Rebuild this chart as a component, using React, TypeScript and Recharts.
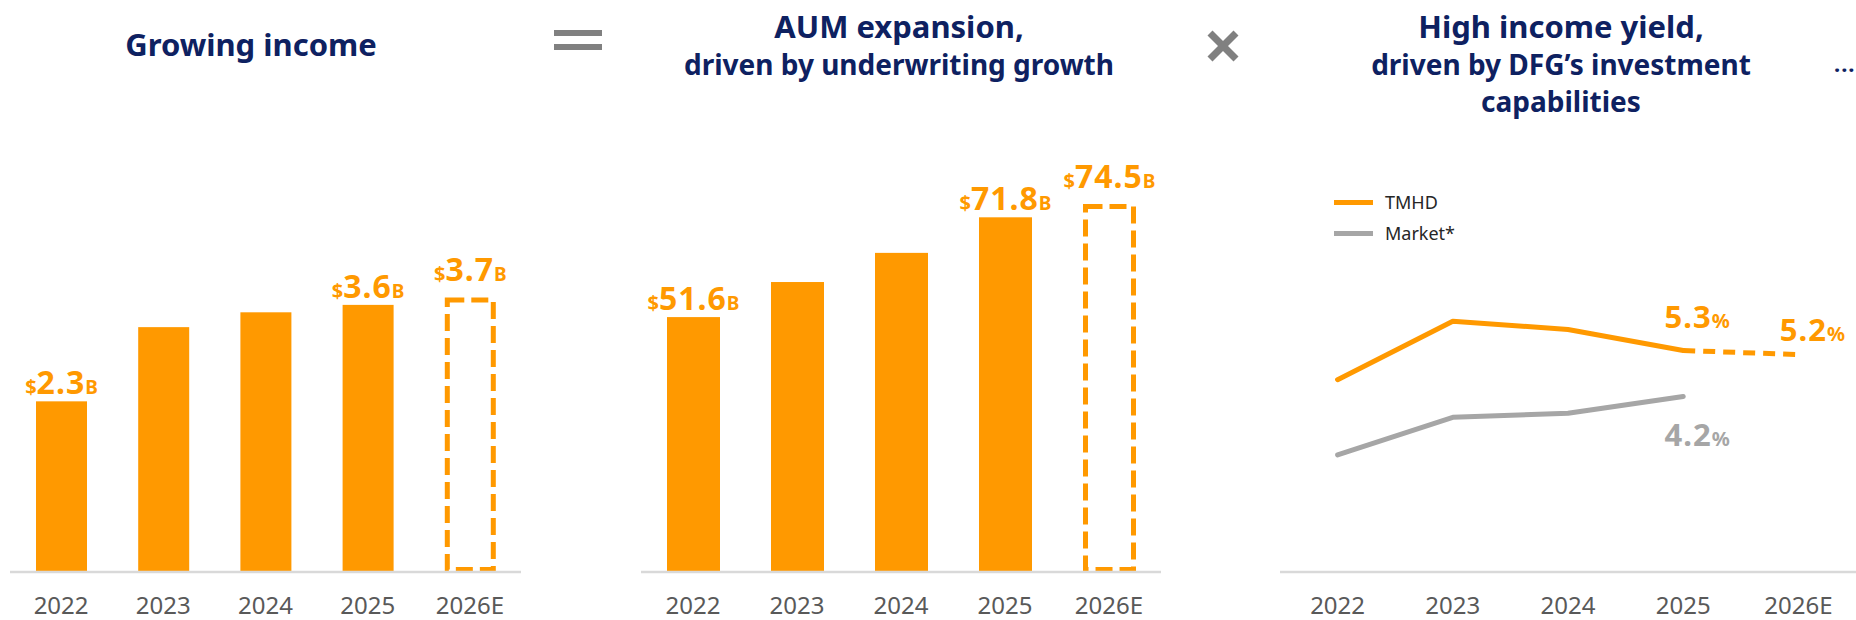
import React from 'react';
import { BarChart, Bar, XAxis, YAxis, LineChart, Line, LabelList } from 'recharts';

const years = ['2022', '2023', '2024', '2025', '2026E'];
const isForecast = [false, false, false, false, true];

const incomeValues = [2.3, 3.3, 3.5, 3.6, 3.7];
const incomeLabels = ['2.3', null, null, '3.6', '3.7'];

const aumValues = [51.6, 58.7, 64.6, 71.8, 74.5];
const aumLabels = ['51.6', null, null, '71.8', '74.5'];

const tmhdActual = [4.6, 6.0, 5.8, 5.3, null];
const tmhdEstimate = [null, null, null, 5.3, 5.2];
const marketYield = [2.8, 3.7, 3.8, 4.2, null];
const tmhdLabels = [null, null, null, '5.3', '5.2'];
const marketLabels = [null, null, null, '4.2', null];

const ORANGE = '#FF9900';
const NAVY = '#0E2161';
const GREY_OP = '#808080';
const MARKET = '#A6A6A6';
const AXIS = '#D9D9D9';
const TICK = '#595959';
const FONT = '"Noto Sans", "Open Sans", sans-serif';

const incomeData = years.map((year, i) => ({
  year,
  value: incomeValues[i],
  label: incomeLabels[i],
  forecast: isForecast[i],
}));

const aumData = years.map((year, i) => ({
  year,
  value: aumValues[i],
  label: aumLabels[i],
  forecast: isForecast[i],
}));

const yieldData = years.map((year, i) => ({
  year,
  tmhd: tmhdActual[i],
  tmhdE: tmhdEstimate[i],
  market: marketYield[i],
  tmhdLabel: tmhdLabels[i],
  marketLabel: marketLabels[i],
}));

// solid bar, or dashed outline for the estimate year
const BarShape = (props: any) => {
  const { x, y, width, height, payload } = props;
  if (payload && payload.forecast) {
    const sw = 5;
    return (
      <rect
        x={x + sw / 2}
        y={y + sw / 2}
        width={width - sw}
        height={height - sw}
        fill="none"
        stroke={ORANGE}
        strokeWidth={sw}
        strokeDasharray="17 7"
      />
    );
  }
  return <rect x={x} y={y} width={width} height={height} fill={ORANGE} />;
};

const BillionLabel = (props: any) => {
  const { x, y, width, value, index } = props;
  if (!value) return null;
  const lift = isForecast[index] ? 16 : 7;
  return (
    <text
      x={x + width / 2}
      y={y - lift}
      textAnchor="middle"
      fill={ORANGE}
      fontWeight={700}
      fontFamily={FONT}
    >
      <tspan fontSize={20}>$</tspan>
      <tspan fontSize={32} letterSpacing={1}>{value}</tspan>
      <tspan fontSize={19}>B</tspan>
    </text>
  );
};

const pctLabel = (color: string, dyFor: (i: number) => number) => (props: any) => {
  const { x, y, value, index } = props;
  if (!value) return null;
  return (
    <text
      x={x + 14}
      y={y + dyFor(index)}
      textAnchor="middle"
      fill={color}
      fontWeight={700}
      fontFamily={FONT}
    >
      <tspan fontSize={31} letterSpacing={1}>{value}</tspan>
      <tspan fontSize={20}>%</tspan>
    </text>
  );
};

const tickStyle = { fill: TICK, fontSize: 24, fontFamily: FONT };

const titleStyle: React.CSSProperties = {
  position: 'absolute',
  width: 600,
  textAlign: 'center',
  color: NAVY,
  fontFamily: FONT,
  fontWeight: 700,
  fontSize: 28,
  lineHeight: '37px',
  whiteSpace: 'nowrap',
};

const bigLine: React.CSSProperties = { fontSize: 31 };

export default function App() {
  return (
    <div
      style={{
        position: 'absolute',
        left: 0,
        top: 0,
        width: 1856,
        height: 620,
        background: '#fff',
        overflow: 'hidden',
        fontFamily: FONT,
      }}
    >
      <div style={{ ...titleStyle, left: 251 - 300, top: 25.5 }}>
        <span style={bigLine}>Growing income</span>
      </div>
      <div style={{ ...titleStyle, left: 899 - 300, top: 7.5 }}>
        <span style={bigLine}>AUM expansion,</span>
        <br />
        driven by underwriting growth
      </div>
      <div style={{ ...titleStyle, left: 1561 - 300, top: 7.5 }}>
        <span style={bigLine}>High income yield,</span>
        <br />
        driven by DFG’s investment
        <br />
        capabilities
      </div>

      {/* equals / times operators and the trailing dots */}
      <div style={{ position: 'absolute', left: 554, top: 30, width: 48, height: 6, background: GREY_OP }} />
      <div style={{ position: 'absolute', left: 554, top: 44, width: 48, height: 6, background: GREY_OP }} />
      <svg style={{ position: 'absolute', left: 1200, top: 25 }} width={46} height={42}>
        <line x1={10} y1={8} x2={36} y2={34} stroke={GREY_OP} strokeWidth={7} />
        <line x1={36} y1={8} x2={10} y2={34} stroke={GREY_OP} strokeWidth={7} />
      </svg>
      <div
        style={{
          position: 'absolute',
          left: 1834,
          top: 48,
          color: NAVY,
          fontWeight: 700,
          fontSize: 22,
          letterSpacing: 1,
        }}
      >
        ...
      </div>

      <div style={{ position: 'absolute', left: 0, top: 0 }}>
        <BarChart
          width={531}
          height={620}
          data={incomeData}
          margin={{ top: 126.8, right: 10, bottom: 0, left: 10 }}
        >
          <YAxis hide domain={[0, 6]} />
          <XAxis
            dataKey="year"
            height={48}
            axisLine={{ stroke: AXIS, strokeWidth: 2.5 }}
            tickLine={false}
            tick={tickStyle}
            tickMargin={19}
            interval={0}
          />
          <Bar dataKey="value" barSize={51} shape={BarShape} isAnimationActive={false}>
            <LabelList dataKey="label" content={BillionLabel} />
          </Bar>
        </BarChart>
      </div>

      <div style={{ position: 'absolute', left: 631, top: 0 }}>
        <BarChart
          width={540}
          height={620}
          data={aumData}
          margin={{ top: 78, right: 10, bottom: 0, left: 10 }}
        >
          <YAxis hide domain={[0, 100]} />
          <XAxis
            dataKey="year"
            height={48}
            axisLine={{ stroke: AXIS, strokeWidth: 2.5 }}
            tickLine={false}
            tick={tickStyle}
            tickMargin={19}
            interval={0}
          />
          <Bar dataKey="value" barSize={53} shape={BarShape} isAnimationActive={false}>
            <LabelList dataKey="label" content={BillionLabel} />
          </Bar>
        </BarChart>
      </div>

      <div style={{ position: 'absolute', left: 1280, top: 0 }}>
        <LineChart
          width={576}
          height={620}
          data={yieldData}
          margin={{ top: 154, right: 0, bottom: 0, left: 0 }}
        >
          <YAxis hide domain={[0, 10]} />
          <XAxis
            dataKey="year"
            height={48}
            padding={{ left: 57.6, right: 57.6 }}
            axisLine={{ stroke: AXIS, strokeWidth: 2.5 }}
            tickLine={false}
            tick={tickStyle}
            tickMargin={19}
            interval={0}
          />
          <Line
            dataKey="market"
            stroke={MARKET}
            strokeWidth={5}
            dot={false}
            strokeLinecap="round"
            strokeLinejoin="round"
            isAnimationActive={false}
          >
            <LabelList dataKey="marketLabel" content={pctLabel(MARKET, () => 50)} />
          </Line>
          <Line
            dataKey="tmhdE"
            stroke={ORANGE}
            strokeWidth={5}
            strokeDasharray="12 8"
            dot={false}
            isAnimationActive={false}
          >
            <LabelList dataKey="tmhdLabel" content={pctLabel(ORANGE, (i) => (i === 4 ? -14 : -22))} />
          </Line>
          <Line
            dataKey="tmhd"
            stroke={ORANGE}
            strokeWidth={5}
            dot={false}
            strokeLinecap="round"
            strokeLinejoin="round"
            isAnimationActive={false}
          />
        </LineChart>
      </div>

      {/* legend for the yield chart */}
      <div style={{ position: 'absolute', left: 1334, top: 189, fontSize: 18, color: '#262626' }}>
        <div style={{ display: 'flex', alignItems: 'center', height: 26 }}>
          <div style={{ width: 39, height: 5, background: ORANGE, marginRight: 12 }} />
          TMHD
        </div>
        <div style={{ display: 'flex', alignItems: 'center', height: 26, marginTop: 5 }}>
          <div style={{ width: 39, height: 5, background: MARKET, marginRight: 12 }} />
          Market*
        </div>
      </div>
    </div>
  );
}
